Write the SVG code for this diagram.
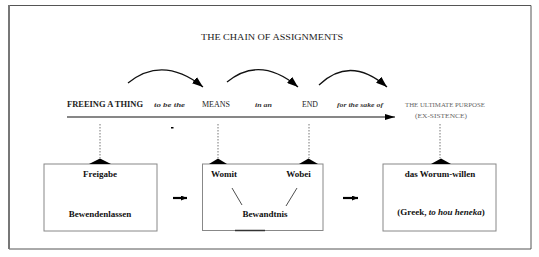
<svg xmlns="http://www.w3.org/2000/svg" width="539" height="257" viewBox="0 0 539 257">
<style>
.lbl{font-family:"Liberation Serif",serif;font-weight:bold;fill:#222}
.it{font-family:"Liberation Serif",serif;font-style:italic;font-weight:bold;fill:#333}
.lt{font-family:"Liberation Serif",serif;fill:#666}
.bx{fill:#fff;stroke:#888;stroke-width:1}
.bt{font-family:"Liberation Serif",serif;font-weight:bold;font-size:9px;fill:#111;text-anchor:middle}
.dot{stroke:#777;stroke-width:1;stroke-dasharray:1.5 1.5;fill:none}
.arc{stroke:#111;stroke-width:1.3;fill:none}
.tri{fill:#000}
</style>
<defs>
<marker id="ah" viewBox="0 0 11 8" refX="11" refY="4" markerWidth="11" markerHeight="8" markerUnits="userSpaceOnUse" orient="auto">
<path d="M0,0 L11,4 L0,8 Z" fill="#000"/>
</marker>
<marker id="ah2" viewBox="0 0 10 6" refX="10" refY="3" markerWidth="10" markerHeight="6" markerUnits="userSpaceOnUse" orient="auto">
<path d="M0,0 L10,3 L0,6 Z" fill="#000"/>
</marker>
<marker id="ah3" viewBox="0 0 6 5" refX="6" refY="2.5" markerWidth="6" markerHeight="5" markerUnits="userSpaceOnUse" orient="auto">
<path d="M0,0 L6,2.5 L0,5 Z" fill="#000"/>
</marker>
</defs>
<rect width="539" height="257" fill="#fff"/>
<!-- frame -->
<path d="M9,5.5 H531 V249 H9 Z" fill="none" stroke="#555" stroke-width="1"/>
<line x1="9" y1="5" x2="9" y2="249" stroke="#777" stroke-width="2"/>
<text x="272" y="40" font-family="Liberation Serif, serif" font-size="8.5" fill="#222" text-anchor="middle" textLength="142" lengthAdjust="spacingAndGlyphs">THE CHAIN OF ASSIGNMENTS</text>

<g id="labels">
<text x="67" y="107" class="lbl" font-size="8" textLength="76" lengthAdjust="spacingAndGlyphs">FREEING A THING</text>
<text x="154" y="107" class="it" font-size="6" textLength="31" lengthAdjust="spacingAndGlyphs">to be the</text>
<text x="202" y="107" class="lbl" font-size="7.5" textLength="28" lengthAdjust="spacingAndGlyphs" style="font-weight:normal">MEANS</text>
<text x="255" y="107" class="it" font-size="6" textLength="17" lengthAdjust="spacingAndGlyphs">in an</text>
<text x="302" y="107" class="lbl" font-size="7.5" textLength="16" lengthAdjust="spacingAndGlyphs" style="font-weight:normal">END</text>
<text x="337" y="107" class="it" font-size="7" textLength="46" lengthAdjust="spacingAndGlyphs">for the sake of</text>
<text x="405" y="107" class="lt" font-size="6.5" textLength="80" lengthAdjust="spacingAndGlyphs">THE ULTIMATE PURPOSE</text>
<text x="415" y="118" class="lt" font-size="6.5" textLength="52" lengthAdjust="spacingAndGlyphs">(EX-SISTENCE)</text>
</g>

<g id="connectors">
<line x1="67" y1="117" x2="395" y2="117" stroke="#111" stroke-width="1.2" marker-end="url(#ah2)"/>
<path class="arc" d="M128,83 Q163,55 203,87" marker-end="url(#ah)"/>
<path class="arc" d="M227,82 Q260,55 298,87" marker-end="url(#ah)"/>
<path class="arc" d="M319,85 Q350,55 387,87" marker-end="url(#ah)"/>
<line class="dot" x1="100" y1="124" x2="100" y2="158"/>
<line class="dot" x1="218" y1="124" x2="218" y2="158"/>
<line class="dot" x1="309" y1="124" x2="309" y2="158"/>
<line class="dot" x1="440" y1="124" x2="440" y2="158"/>
<line x1="173" y1="198" x2="187" y2="198" stroke="#000" stroke-width="2.2" marker-end="url(#ah3)"/>
<line x1="343" y1="198" x2="358" y2="198" stroke="#000" stroke-width="2.2" marker-end="url(#ah3)"/>
<rect x="171" y="127" width="2.5" height="1.5" fill="#000"/>
</g>

<g id="node-freigabe">
<rect class="bx" x="44" y="164" width="113" height="67"/>
<path class="tri" d="M89,164 L100,158.5 L111,164 Z"/>
<text x="100" y="177" class="bt">Freigabe</text>
<text x="100" y="217" class="bt">Bewendenlassen</text>
</g>

<g id="node-bewandtnis">
<rect class="bx" x="202.5" y="164" width="120.5" height="66.5"/>
<path class="tri" d="M209,164 L218,158.5 L227,164 Z"/>
<path class="tri" d="M299,164 L308.5,158.5 L318,164 Z"/>
<line x1="235" y1="230.5" x2="265" y2="230.5" stroke="#333" stroke-width="1.5"/>
<text x="224" y="177" class="bt">Womit</text>
<text x="298.5" y="177" class="bt">Wobei</text>
<line x1="232" y1="188" x2="242" y2="205" stroke="#222" stroke-width="0.8"/>
<line x1="297" y1="188" x2="286" y2="206" stroke="#222" stroke-width="0.8"/>
<text x="265" y="217" class="bt">Bewandtnis</text>
</g>

<g id="node-worum">
<rect class="bx" x="383" y="164" width="113" height="67"/>
<path class="tri" d="M431,164 L441,158.5 L451,164 Z"/>
<text x="440" y="177" class="bt" font-size="8.5">das Worum-willen</text>
<text x="441" y="215" class="bt" font-size="8.5">(Greek, <tspan font-style="italic">to hou heneka</tspan>)</text>
</g>
</svg>
